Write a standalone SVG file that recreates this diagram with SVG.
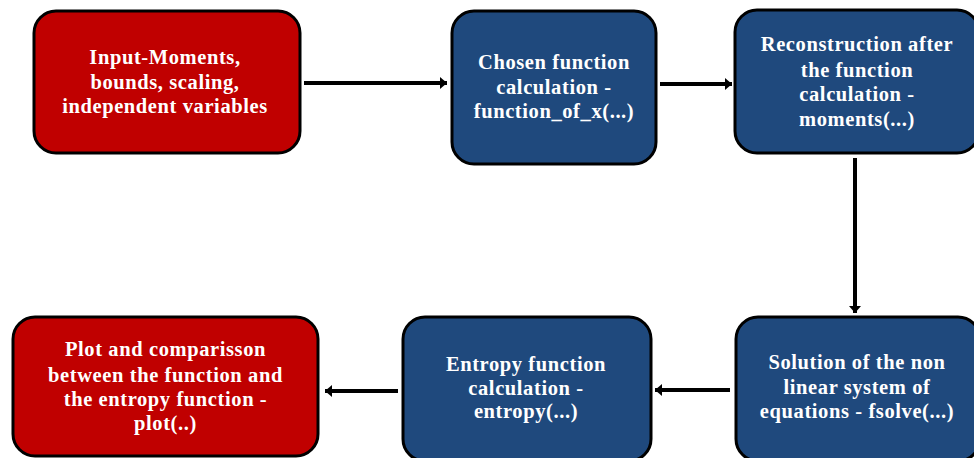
<svg xmlns="http://www.w3.org/2000/svg" width="974" height="458" viewBox="0 0 974 458">
<defs>
<marker id="ah" markerUnits="userSpaceOnUse" markerWidth="10" markerHeight="14" refX="7" refY="6" orient="auto">
<path d="M0,0 L7,6 L0,12 Z" fill="#000"/>
</marker>
<style>
.red{fill:#C00000;stroke:#000;stroke-width:3}
.blue{fill:#1F497D;stroke:#000;stroke-width:3}
text{font-family:"Liberation Serif","Times New Roman",serif;font-weight:bold;font-size:20.5px;fill:#fff;text-anchor:middle;letter-spacing:0.6px}
.conn{stroke:#000;stroke-width:4;fill:none;marker-end:url(#ah)}
</style>
</defs>
<rect width="974" height="458" fill="#fff"/>
<g id="connectors">
<line class="conn" x1="304" y1="83" x2="447" y2="83"/>
<line class="conn" x1="660" y1="84" x2="732" y2="84"/>
<line class="conn" x1="855" y1="158" x2="855" y2="313"/>
<line class="conn" x1="730" y1="390" x2="655" y2="390"/>
<line class="conn" x1="398" y1="391" x2="325" y2="391"/>
</g>
<g id="input">
<rect class="red" x="34" y="11" width="266" height="142" rx="22"/>
<text x="165" y="64">Input-Moments,</text>
<text x="165" y="88.5">bounds, scaling,</text>
<text x="165" y="113">independent variables</text>
</g>
<g id="chosen">
<rect class="blue" x="452" y="11" width="204" height="153" rx="22"/>
<text x="554" y="69">Chosen function</text>
<text x="554" y="94">calculation -</text>
<text x="554" y="118">function_of_x(...)</text>
</g>
<g id="reconstruction">
<rect class="blue" x="735" y="10" width="244" height="143" rx="22"/>
<text x="857" y="51">Reconstruction after</text>
<text x="857" y="77">the function</text>
<text x="857" y="101">calculation -</text>
<text x="857" y="126">moments(...)</text>
</g>
<g id="solution">
<rect class="blue" x="736" y="317" width="244" height="144" rx="22"/>
<text x="857" y="369">Solution of the non</text>
<text x="857" y="394">linear system of</text>
<text x="857" y="418">equations - fsolve(...)</text>
</g>
<g id="entropy">
<rect class="blue" x="403" y="317" width="248" height="144" rx="22"/>
<text x="526" y="371">Entropy function</text>
<text x="526" y="395">calculation -</text>
<text x="526" y="418">entropy(...)</text>
</g>
<g id="plot">
<rect class="red" x="13" y="317" width="305" height="139" rx="22"/>
<text x="165.5" y="356">Plot and comparisson</text>
<text x="165.5" y="382">between the function and</text>
<text x="165.5" y="406">the entropy function -</text>
<text x="165.5" y="430">plot(..)</text>
</g>
</svg>
